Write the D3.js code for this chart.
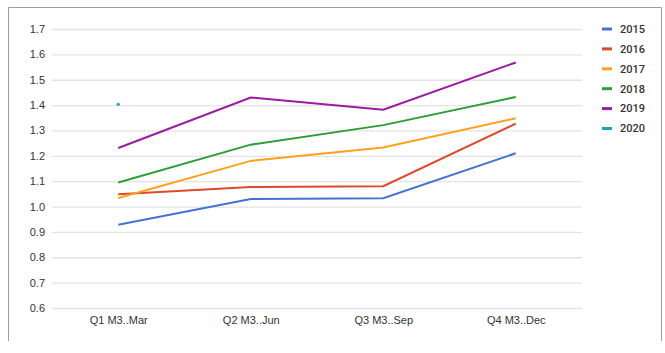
<!DOCTYPE html>
<html><head><meta charset="utf-8">
<script src="https://cdn.jsdelivr.net/npm/d3@7"></script>
<style>body{margin:0;background:#fff}svg{display:block;font-family:Roboto,"Noto Sans",sans-serif}</style>
</head><body><svg id="c" width="665" height="353"></svg>
<script>
const categories = ["Q1 M3..Mar","Q2 M3..Jun","Q3 M3..Sep","Q4 M3..Dec"];
const years = ["2015","2016","2017","2018","2019","2020"];
const v2015 = [0.928, 1.03, 1.033, 1.21];
const v2016 = [1.048, 1.077, 1.08, 1.327];
const v2017 = [1.034, 1.18, 1.233, 1.348];
const v2018 = [1.095, 1.244, 1.321, 1.432];
const v2019 = [1.231, 1.43, 1.382, 1.568];
const v2020 = [1.403, null, null, null];
const yTicks = [0.6,0.7,0.8,0.9,1.0,1.1,1.2,1.3,1.4,1.5,1.6,1.7];
const colors = ["#4472d2","#dc4a2c","#ffa11c","#2e9d38","#9a1aa4","#1ba3ba"];
const series = [v2015,v2016,v2017,v2018,v2019,v2020];

const svg = d3.select("#c");
// frame
svg.append("path").attr("d","M8.5,341 V7.5 H661.5 V341").attr("fill","none").attr("stroke","#9e9e9e").attr("stroke-width",1);

const x = d3.scalePoint().domain(categories).range([52,582]).padding(0.5);
const y = d3.scaleLinear().domain([0.6,1.7]).range([308,29]);

const gy = svg.append("g").attr("transform","translate(52,0)")
  .call(d3.axisLeft(y).tickValues(yTicks).tickFormat(d3.format(".1f")).tickSize(-530).tickPadding(7));
gy.select(".domain").remove();
gy.selectAll("line").attr("stroke","#e3e3e3").attr("stroke-width",1.3);
gy.selectAll("text").attr("fill","#333").style("font-size","11px").style("font-weight","500");

const gx = svg.append("g").attr("transform","translate(0,308)")
  .call(d3.axisBottom(x).tickSize(0).tickPadding(8));
gx.select(".domain").remove();
gx.selectAll("text").attr("fill","#333").style("font-size","11px").style("font-weight","500");

const line = d3.line().defined(d=>d!=null).x((d,i)=>x(categories[i])).y(d=>y(d));
series.forEach((s,k)=>{
  const n = s.filter(d=>d!=null).length;
  if(n>1){
    svg.append("path").datum(s).attr("d",line).attr("fill","none")
      .attr("stroke",colors[k]).attr("stroke-width",2);
  } else {
    s.forEach((d,i)=>{ if(d!=null) svg.append("circle").attr("cx",x(categories[i])).attr("cy",y(d)).attr("r",1.6).attr("fill",colors[k]); });
  }
});

// legend
const lg = svg.append("g");
years.forEach((yr,i)=>{
  const yy = 29 + i*19.9;
  lg.append("line").attr("x1",602).attr("x2",612).attr("y1",yy).attr("y2",yy).attr("stroke",colors[i]).attr("stroke-width",3);
  lg.append("text").attr("x",620).attr("y",yy).attr("dy","0.35em").text(yr)
    .attr("fill","#333").style("font-size","11px").style("font-weight","500");
});
</script></body></html>
